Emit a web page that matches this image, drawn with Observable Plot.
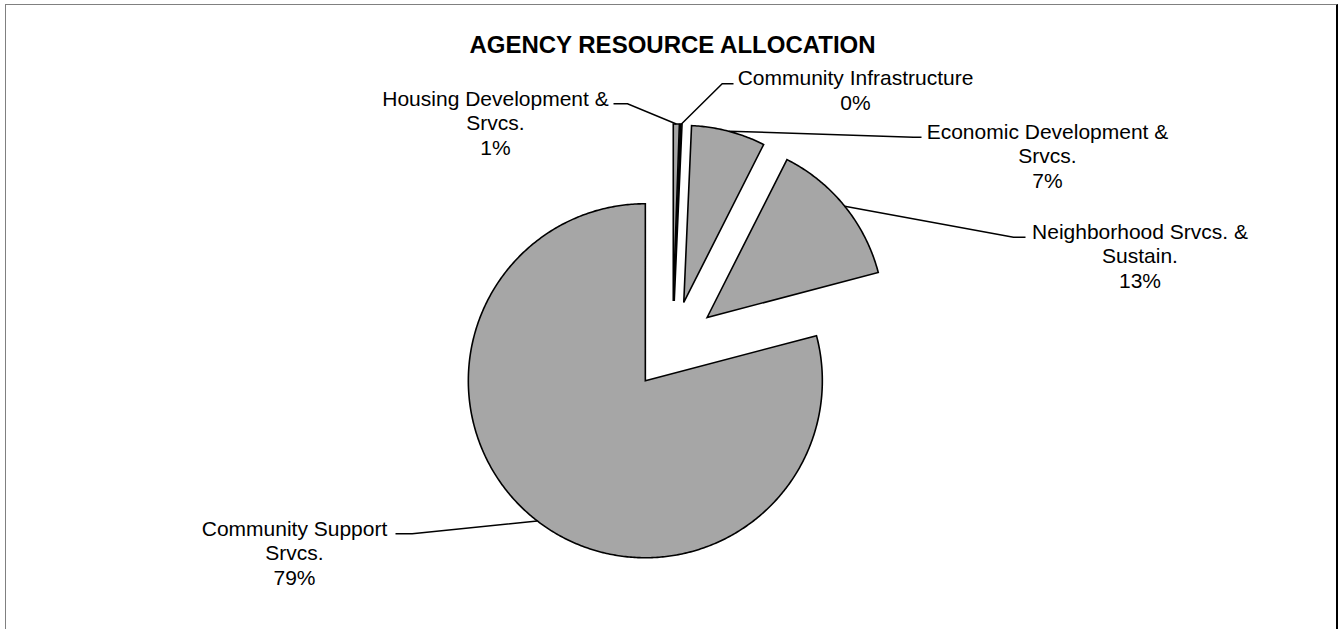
<!DOCTYPE html>
<html><head><meta charset="utf-8">
<script src="https://cdn.jsdelivr.net/npm/d3@7"></script>
<script src="https://cdn.jsdelivr.net/npm/@observablehq/plot@0.6"></script>
<style>
html,body{margin:0;padding:0;background:#fff;overflow:hidden;}
#chart{position:absolute;left:0;top:0;}
#frame{position:absolute;left:5px;top:4px;width:1333px;height:700px;border-left:1px solid #808080;border-top:1px solid #808080;border-right:2px solid #000;box-sizing:border-box;pointer-events:none;}
</style></head><body>
<div id="chart"></div><div id="frame"></div>
<script>
// ---- data ----
const categories = ["Housing Development & Srvcs.", "Community Infrastructure", "Economic Development & Srvcs.", "Neighborhood Srvcs. & Sustain.", "Community Support Srvcs."];
const labelNames = ["Housing Development &\nSrvcs.", "Community Infrastructure", "Economic Development &\nSrvcs.", "Neighborhood Srvcs. &\nSustain.", "Community Support\nSrvcs."];
const shares = [0.55, 0.15, 6.75, 13.45, 79.1];
const chartTitle = "AGENCY RESOURCE ALLOCATION";

// ---- layout ----
const W = 1338, H = 629;
const cx = 672, cy = 345, R = 177, explode = 44.5;
const fontFamily = "Liberation Sans, Arial, Helvetica, sans-serif";
const labelLayout = [
  {x: 495, y: 121.7, elbow: [627, 103.3], end: [613, 103.3]},
  {x: 855, y: 89, elbow: [721.7, 83.3], end: [733, 83.3]},
  {x: 1047, y: 155, elbow: [913, 136.7], end: [921, 136.7]},
  {x: 1139.5, y: 254.7, elbow: [1013, 236.7], end: [1025, 236.7]},
  {x: 294, y: 551.7, elbow: [411.7, 533.3], end: [395, 533.3]}
];

// ---- pie geometry (from data) ----
const total = d3.sum(shares);
let acc = 0;
const slices = shares.map((v, i) => {
  const a0 = acc / total * 2 * Math.PI;
  acc += v;
  const a1 = acc / total * 2 * Math.PI;
  const mid = (a0 + a1) / 2;
  const vx = cx + explode * Math.sin(mid), vy = cy - explode * Math.cos(mid);
  return {i, name: categories[i], a0, a1, mid, vx, vy};
});

const polyPts = [];
for (const s of slices) {
  polyPts.push({slice: s.name, x: s.vx, y: s.vy});
  const n = Math.max(2, Math.ceil((s.a1 - s.a0) / 0.01));
  for (let k = 0; k <= n; k++) {
    const a = s.a0 + (s.a1 - s.a0) * k / n;
    polyPts.push({slice: s.name, x: s.vx + R * Math.sin(a), y: s.vy - R * Math.cos(a)});
  }
}

const leaderPts = [];
for (const s of slices) {
  const L = labelLayout[s.i];
  leaderPts.push({slice: s.name, x: s.vx + R * Math.sin(s.mid), y: s.vy - R * Math.cos(s.mid)});
  leaderPts.push({slice: s.name, x: L.elbow[0], y: L.elbow[1]});
  leaderPts.push({slice: s.name, x: L.end[0], y: L.end[1]});
}

const labels = slices.map(s => ({
  x: labelLayout[s.i].x, y: labelLayout[s.i].y,
  text: labelNames[s.i] + "\n" + Math.round(shares[s.i]) + "%"
}));

const chart = Plot.plot({
  width: W, height: H,
  margin: 0,
  x: {domain: [0, W], range: [0, W], axis: null},
  y: {domain: [0, H], range: [0, H], axis: null},
  style: {background: "transparent", fontFamily},
  marks: [
    Plot.line(polyPts, {x: "x", y: "y", z: "slice", curve: "linear-closed", fill: "#a6a6a6", stroke: "#000", strokeWidth: 1.6, strokeLinejoin: "miter", strokeMiterlimit: 4}),
    Plot.line(leaderPts, {x: "x", y: "y", z: "slice", stroke: "#000", strokeWidth: 1.5, strokeLinejoin: "miter", strokeMiterlimit: 4, strokeLinecap: "butt"}),
    Plot.text(labels, {x: "x", y: "y", text: "text", textAnchor: "middle", lineAnchor: "middle", lineHeight: 1.167, fontSize: 21, fontFamily, fill: "#000"}),
    Plot.text([chartTitle], {x: () => 672, y: () => 45, text: d => d, textAnchor: "middle", lineAnchor: "middle", fontSize: 24, fontWeight: "bold", fontFamily, fill: "#000"})
  ]
});
document.getElementById("chart").appendChild(chart);
</script>
</body></html>
